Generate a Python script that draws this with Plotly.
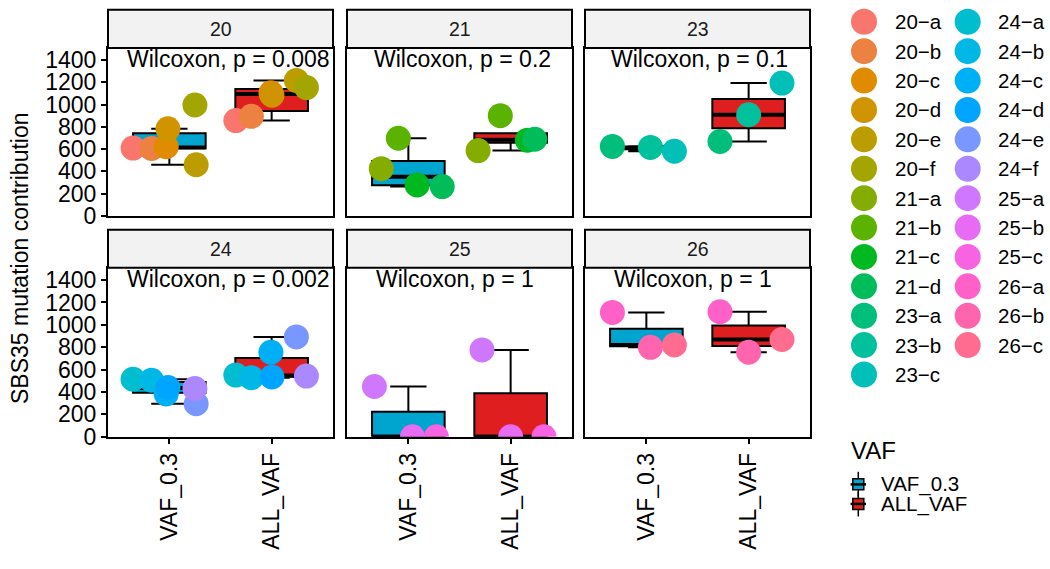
import math
import numpy as np
import plotly.graph_objects as go

# ---------------- data ----------------
facets = ["20", "21", "23", "24", "25", "26"]
groups = ["VAF_0.3", "ALL_VAF"]
p_labels = ["Wilcoxon, p = 0.008", "Wilcoxon, p = 0.2", "Wilcoxon, p = 0.1",
            "Wilcoxon, p = 0.002", "Wilcoxon, p = 1", "Wilcoxon, p = 1"]

samples_20 = ["20-a", "20-b", "20-c", "20-d", "20-e", "20-f"]
samples_21 = ["21-a", "21-b", "21-c", "21-d"]
samples_23 = ["23-a", "23-b", "23-c"]
samples_24 = ["24-a", "24-b", "24-c", "24-d", "24-e", "24-f"]
samples_25 = ["25-a", "25-b", "25-c"]
samples_26 = ["26-a", "26-b", "26-c"]

vaf03_20 = [610, 607, 622, 783, 460, 997]
all_20 = [857, 895, 1106, 1085, 1218, 1153]
vaf03_21 = [425, 698, 279, 264]
all_21 = [587, 901, 681, 689]
vaf03_23 = [625, 616, 581]
all_23 = [669, 909, 1194]
vaf03_24 = [514, 505, 382, 440, 295, 431]
all_24 = [551, 528, 755, 534, 892, 542]
vaf03_25 = [449, 0, 0]
all_25 = [776, 0, 0]
vaf03_26 = [1111, 799, 820]
all_26 = [1117, 755, 869]

y_ticks = [0, 200, 400, 600, 800, 1000, 1200, 1400]

# horizontal jitter offsets, by number of samples
jitter_vaf03 = {6: [-0.355, -0.174, -0.031, -0.014, 0.262, 0.25],
                4: [-0.265, -0.098, 0.085, 0.331],
                3: [-0.332, 0.04, 0.274]}
jitter_all = {6: [-0.35, -0.198, -0.007, 0.003, 0.242, 0.34],
              4: [-0.318, -0.101, 0.164, 0.236],
              3: [-0.28, 0.0, 0.326]}

panel_samples = [samples_20, samples_21, samples_23, samples_24, samples_25, samples_26]
panel_vaf03 = [vaf03_20, vaf03_21, vaf03_23, vaf03_24, vaf03_25, vaf03_26]
panel_all = [all_20, all_21, all_23, all_24, all_25, all_26]
all_samples = [s for lst in panel_samples for s in lst]

# ---------------- styling ----------------
W, H = 1050, 569
FONT = "Liberation Sans, Arial, Helvetica, sans-serif"
box_fill = {"VAF_0.3": "#00A5CF", "ALL_VAF": "#DF1F1F"}
BOX_W = 0.71


def hcl_hex(h, c=100.0, l=65.0):
    hr = math.radians(h)
    U, V = c * math.cos(hr), c * math.sin(hr)
    Xn, Yn, Zn = 95.047, 100.0, 108.883
    un = 4 * Xn / (Xn + 15 * Yn + 3 * Zn)
    vn = 9 * Yn / (Xn + 15 * Yn + 3 * Zn)
    Y = Yn * ((l + 16) / 116) ** 3 if l > 8 else Yn * l / 903.3
    u = U / (13 * l) + un
    v = V / (13 * l) + vn
    X = 9.0 * Y * u / (4 * v)
    Z = -X / 3 - 5 * Y + 3 * Y / v
    X, Y, Z = X / 100, Y / 100, Z / 100
    r = 3.240479 * X - 1.537150 * Y - 0.498535 * Z
    g = -0.969256 * X + 1.875992 * Y + 0.041556 * Z
    b = 0.055648 * X - 0.204043 * Y + 1.057311 * Z

    def gam(t):
        t = 12.92 * t if t <= 0.0031308 else 1.055 * t ** (1 / 2.4) - 0.055
        return int(round(min(max(t, 0), 1) * 255))
    return "#%02X%02X%02X" % (gam(r), gam(g), gam(b))


n_s = len(all_samples)
hues = np.linspace(15, 375, n_s + 1)[:n_s]
sample_color = {s: hcl_hex(h) for s, h in zip(all_samples, hues)}

cols_px = [(108, 333), (347, 572), (585, 810)]
rows_px = [(49, 221), (274, 447)]
strip_h = 39

fig = go.Figure()
layout = dict(width=W, height=H, autosize=False, margin=dict(l=0, r=0, t=0, b=0, pad=0),
              paper_bgcolor="white", plot_bgcolor="rgba(0,0,0,0)",
              showlegend=False, font=dict(family=FONT, color="black"))
shapes, annotations = [], []

for i, fac in enumerate(facets):
    r, c = divmod(i, 3)
    n = i + 1
    xa = "x" if n == 1 else f"x{n}"
    ya = "y" if n == 1 else f"y{n}"
    xl, xr = cols_px[c]
    yt, yb = rows_px[r]
    bottom = r == 1
    left = c == 0
    layout["xaxis" if n == 1 else f"xaxis{n}"] = dict(
        domain=[xl / W, xr / W], range=[0.4, 2.6], anchor=ya,
        tickvals=[1, 2], ticktext=groups if bottom else ["", ""],
        showticklabels=bottom, ticks="outside" if bottom else "",
        ticklen=5, tickwidth=1.5, tickcolor="black", tickangle=-90,
        tickfont=dict(size=23, family=FONT, color="black"),
        showline=True, mirror=True, linecolor="black", linewidth=2,
        showgrid=False, zeroline=False)
    layout["yaxis" if n == 1 else f"yaxis{n}"] = dict(
        domain=[1 - yb / H, 1 - yt / H], range=[0, 1510], anchor=xa,
        tickvals=y_ticks, showticklabels=left, ticks="outside" if left else "",
        ticklen=5, tickwidth=1.5, tickcolor="black",
        tickfont=dict(size=23, family=FONT, color="black"),
        showline=True, mirror=True, linecolor="black", linewidth=2,
        showgrid=False, zeroline=False)

    # strip
    ph = yb - yt
    shapes.append(dict(type="rect", xref=f"{xa} domain", yref=f"{ya} domain",
                       x0=0, x1=1, y0=1, y1=1 + strip_h / ph,
                       fillcolor="#F2F2F2", line=dict(color="black", width=2),
                       layer="above"))
    annotations.append(dict(text=fac, xref=f"{xa} domain", yref=f"{ya} domain",
                            x=0.5, y=1 + strip_h / (2 * ph), showarrow=False,
                            xanchor="center", yanchor="middle",
                            font=dict(size=19.5, family=FONT, color="#1A1A1A")))

    vals_by_group = [panel_vaf03[i], panel_all[i]]
    jit_by_group = [jitter_vaf03[len(panel_samples[i])], jitter_all[len(panel_samples[i])]]
    # boxes
    for gi, g in enumerate(groups):
        pos = gi + 1
        v = np.array(vals_by_group[gi], dtype=float)
        q1, med, q3 = np.percentile(v, [25, 50, 75])
        iqr = q3 - q1
        lo = v[v >= q1 - 1.5 * iqr].min()
        hi = v[v <= q3 + 1.5 * iqr].max()
        fig.add_trace(go.Box(x=[pos], q1=[q1], median=[med], q3=[q3],
                             lowerfence=[lo], upperfence=[hi], width=BOX_W,
                             fillcolor=box_fill[g], boxpoints=False,
                             line=dict(color="black", width=2),
                             xaxis=xa, yaxis=ya, hoverinfo="skip"))
        fig.add_trace(go.Scatter(x=[pos - BOX_W / 2, pos + BOX_W / 2], y=[med, med],
                                 mode="lines", line=dict(color="black", width=4),
                                 xaxis=xa, yaxis=ya, hoverinfo="skip"))
    # points
    for gi, g in enumerate(groups):
        pos = gi + 1
        for s, val, dx in zip(panel_samples[i], vals_by_group[gi], jit_by_group[gi]):
            fig.add_trace(go.Scatter(x=[pos + dx], y=[val], mode="markers",
                                     marker=dict(size=25, color=sample_color[s], line=dict(width=0)),
                                     xaxis=xa, yaxis=ya, name=s, hoverinfo="skip"))
    # p-value label
    dxs = [0.083, 0.025, 0.02, 0.08, -0.044, -0.044]
    annotations.append(dict(text=p_labels[i], xref=xa, yref=ya, x=1.5 + dxs[i], y=1408,
                            showarrow=False, xanchor="center", yanchor="middle",
                            font=dict(size=23, family=FONT, color="black")))

# y axis title
annotations.append(dict(text="SBS35 mutation contribution", xref="paper", yref="paper",
                        x=20 / W, y=1 - 264 / H, textangle=-90, showarrow=False,
                        xanchor="center", yanchor="middle",
                        font=dict(size=23, family=FONT, color="black")))

# ---------------- legends (drawn on an overlay axis in pixel units) ----------------
layout["xaxis7"] = dict(domain=[0, 1], range=[0, W], visible=False, anchor="y7",
                        fixedrange=True)
layout["yaxis7"] = dict(domain=[0, 1], range=[H, 0], visible=False, anchor="x7",
                        fixedrange=True)
per_col = 13
leg_x = [864, 967.7]
lx, ly, lc = [], [], []
for k, s in enumerate(all_samples):
    col, row = divmod(k, per_col)
    x = leg_x[col]
    y = 22.3 + 30.08 * row
    lx.append(x)
    ly.append(y)
    lc.append(sample_color[s])
    annotations.append(dict(text=s.replace("-", "\u2212"), xref="x7", yref="y7",
                            x=x + 28.5, y=y, showarrow=False, xanchor="left",
                            yanchor="middle", font=dict(size=20.5, family=FONT, color="black")))
fig.add_trace(go.Scatter(x=lx, y=ly, mode="markers", xaxis="x7", yaxis="y7",
                         marker=dict(size=26, color=lc, line=dict(width=0)),
                         hoverinfo="skip", cliponaxis=False))

annotations.append(dict(text="VAF", xref="x7", yref="y7", x=849, y=461.5,
                        showarrow=False, xanchor="left", yanchor="middle",
                        font=dict(size=24, family=FONT, color="black")))
vx = [858.3, 858.3]
vy = [495.7, 515.7]
fig.add_trace(go.Scatter(x=vx, y=vy, mode="markers", xaxis="x7", yaxis="y7",
                         marker=dict(symbol="line-ns", size=18,
                                     line=dict(color="black", width=1.5)),
                         hoverinfo="skip", cliponaxis=False))
fig.add_trace(go.Scatter(x=vx, y=vy, mode="markers", xaxis="x7", yaxis="y7",
                         marker=dict(symbol="square", size=11,
                                     color=[box_fill[g] for g in groups],
                                     line=dict(color="black", width=1.5)),
                         hoverinfo="skip", cliponaxis=False))
fig.add_trace(go.Scatter(x=vx, y=vy, mode="markers", xaxis="x7", yaxis="y7",
                         marker=dict(symbol="line-ew", size=11,
                                     line=dict(color="black", width=2.5)),
                         hoverinfo="skip", cliponaxis=False))
for g, y in zip(groups, vy):
    annotations.append(dict(text=g, xref="x7", yref="y7", x=879, y=y,
                            showarrow=False, xanchor="left", yanchor="middle",
                            font=dict(size=20.5, family=FONT, color="black")))

layout["shapes"] = shapes
layout["annotations"] = annotations
fig.update_layout(**layout)
post = ("var s='margin:0;padding:0;overflow:hidden;';"
        "document.documentElement.style.cssText=s;document.body.style.cssText=s;")
fig.write_html("out.html", config={"displayModeBar": False, "responsive": False},
               default_width="1050px", default_height="569px", post_script=post)
